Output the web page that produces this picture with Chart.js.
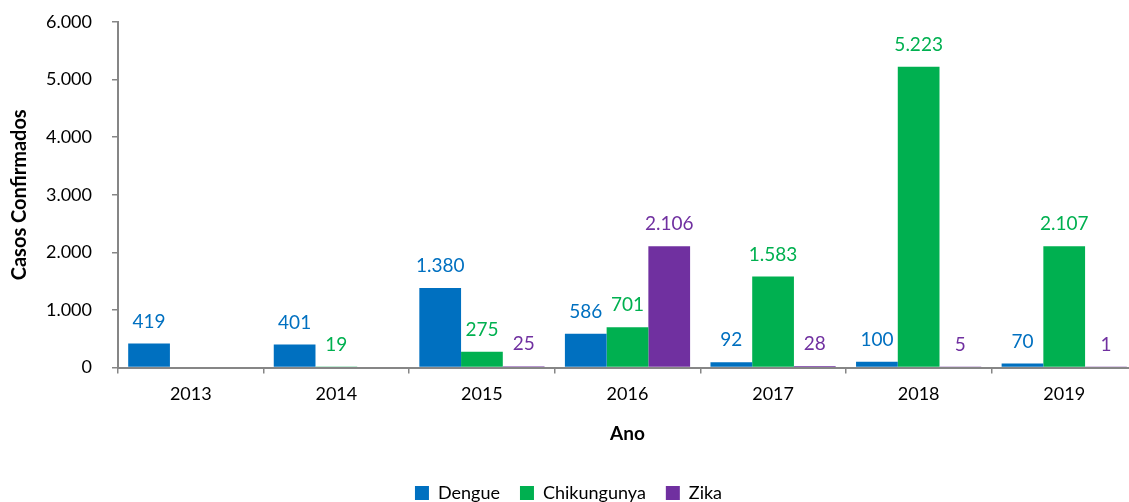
<!DOCTYPE html>
<html>
<head>
<meta charset="utf-8">
<script src="https://cdn.jsdelivr.net/npm/chart.js@4"></script>
<style>
  html, body { margin: 0; padding: 0; background: #fff; overflow: hidden; }
  #wrap { width: 1140px; height: 502px; }
</style>
</head>
<body>
<div id="wrap"><canvas id="casosChart" width="1140" height="502"></canvas></div>
<script>
const anos = ['2013', '2014', '2015', '2016', '2017', '2018', '2019'];
const dengue = [419, 401, 1380, 586, 92, 100, 70];
const chikungunya = [null, 19, 275, 701, 1583, 5223, 2107];
const zika = [null, null, 25, 2106, 28, 5, 1];

const FONT = 'Lato, "Open Sans", sans-serif';
const AXIS = '#868686';

function fmt(v) {
  return String(v).replace(/\B(?=(\d{3})+(?!\d))/g, '.');
}

// desenha os valores acima das barras
const valueLabels = {
  id: 'valueLabels',
  afterDatasetsDraw(chart) {
    const ctx = chart.ctx;
    ctx.save();
    ctx.font = '19px ' + FONT;
    ctx.textAlign = 'center';
    ctx.textBaseline = 'middle';
    chart.data.datasets.forEach((ds, i) => {
      const meta = chart.getDatasetMeta(i);
      meta.data.forEach((bar, j) => {
        const v = ds.data[j];
        if (v === null || v === undefined) return;
        ctx.fillStyle = ds.labelColor;
        ctx.fillText(fmt(v), bar.x, bar.y - 22);
      });
    });
    ctx.restore();
  }
};

const ctx = document.getElementById('casosChart').getContext('2d');
new Chart(ctx, {
  type: 'bar',
  data: {
    labels: anos,
    datasets: [
      { label: 'Dengue', data: dengue, backgroundColor: '#0070C0', labelColor: '#0070C0' },
      { label: 'Chikungunya', data: chikungunya, backgroundColor: '#00B050', labelColor: '#00B050' },
      { label: 'Zika', data: zika, backgroundColor: '#7030A0', labelColor: '#7030A0' }
    ]
  },
  options: {
    responsive: false,
    animation: false,
    layout: { padding: { top: 22, right: 3, left: 0, bottom: -10 } },
    datasets: { bar: { categoryPercentage: 0.86, barPercentage: 1.0, minBarLength: 1 } },
    plugins: {
      legend: {
        position: 'bottom',
        labels: {
          font: { family: FONT, size: 18 },
          color: '#000',
          boxWidth: 14,
          boxHeight: 14,
          padding: 20
        }
      },
      tooltip: { enabled: false }
    },
    scales: {
      x: {
        grid: { offset: true, drawOnChartArea: false, tickLength: 6, color: AXIS, lineWidth: 1.5 },
        border: { color: AXIS, width: 2 },
        ticks: { font: { family: FONT, size: 18 }, color: '#000', padding: 10 },
        title: { display: true, text: 'Ano', font: { family: FONT, size: 19, weight: 'bold' }, color: '#000', padding: { top: 7, bottom: 19 } }
      },
      y: {
        min: 0,
        max: 6000,
        afterFit(scale) { scale.width = 118; scale.paddingTop = 0; },
        grid: { drawOnChartArea: false, tickLength: 6, color: AXIS, lineWidth: 1.5 },
        border: { color: AXIS, width: 2 },
        ticks: { stepSize: 1000, font: { family: FONT, size: 18 }, color: '#000', padding: 20, callback: v => fmt(v) },
        title: { display: true, text: 'Casos Confirmados', font: { family: FONT, size: 20, weight: 'bold' }, color: '#000', padding: { top: 8, bottom: 0 } }
      }
    }
  },
  plugins: [valueLabels]
});
</script>
</body>
</html>
